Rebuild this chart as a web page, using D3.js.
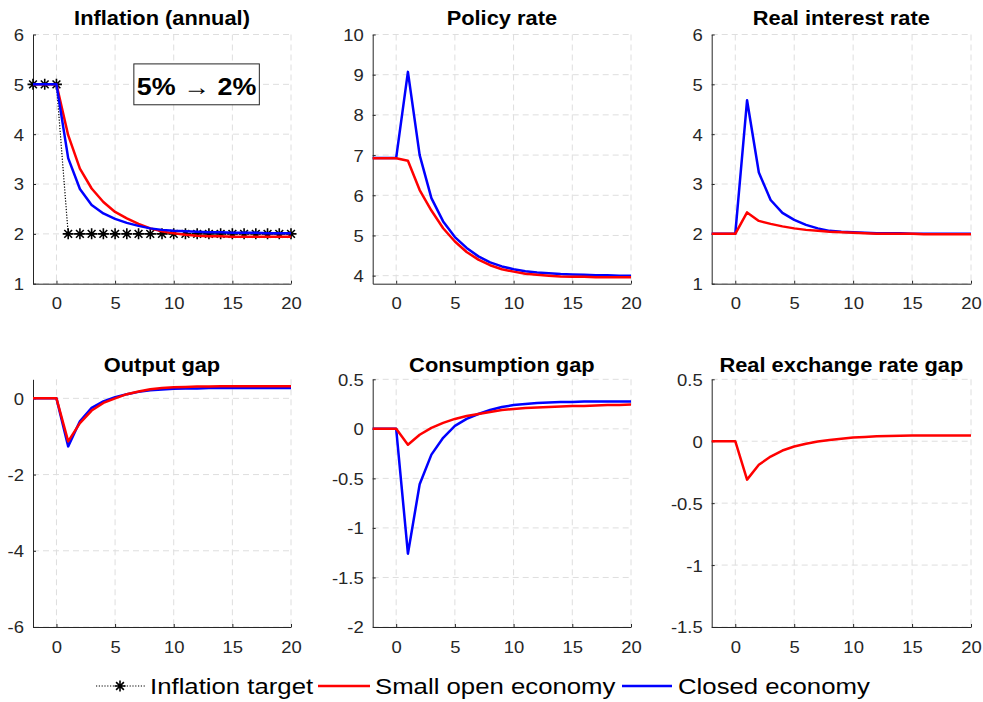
<!DOCTYPE html>
<html><head><meta charset="utf-8">
<script src="https://cdn.jsdelivr.net/npm/d3@7"></script>
<style>
body{margin:0;background:#fff;}
svg{display:block;font-family:"Liberation Sans",Arial,sans-serif;}
</style></head>
<body>
<svg id="chart" width="983" height="702"></svg>
<script>
// ---------------- DATA ----------------
const periods = [-2,-1,0,1,2,3,4,5,6,7,8,9,10,11,12,13,14,15,16,17,18,19,20];
const xTicks = [0,5,10,15,20];

const infTarget = [5,5,5,2,2,2,2,2,2,2,2,2,2,2,2,2,2,2,2,2,2,2,2];
const infClosed = [5,5,5,3.52,2.90,2.58,2.41,2.30,2.22,2.16,2.11,2.08,2.06,2.05,2.04,2.03,2.03,2.02,2.02,2.02,2.01,2.01,2.01];
const infOpen   = [5,5,5,3.98,3.31,2.91,2.64,2.44,2.31,2.20,2.11,2.05,2.01,1.98,1.96,1.95,1.95,1.94,1.94,1.94,1.94,1.94,1.94];

const policyClosed = [6.93,6.93,6.93,9.07,7.00,5.93,5.35,4.96,4.69,4.48,4.33,4.23,4.16,4.11,4.08,4.06,4.04,4.03,4.02,4.01,4.01,4.00,4.00];
const policyOpen   = [6.92,6.92,6.92,6.86,6.13,5.62,5.18,4.85,4.59,4.40,4.26,4.16,4.10,4.05,4.02,4.00,3.98,3.97,3.97,3.96,3.96,3.96,3.96];

const realClosed = [2,2,2,4.68,3.23,2.68,2.42,2.28,2.18,2.11,2.06,2.04,2.03,2.02,2.01,2.01,2.01,2.00,2.00,2.00,2.00,2.00,2.00];
const realOpen   = [2,2,2,2.43,2.26,2.20,2.15,2.11,2.08,2.06,2.04,2.03,2.02,2.01,2.00,2.00,2.00,2.00,1.99,1.99,1.99,1.99,1.99];

const outClosed = [0,0,0,-1.26,-0.60,-0.25,-0.08,0.03,0.11,0.17,0.21,0.23,0.25,0.26,0.26,0.27,0.27,0.27,0.27,0.27,0.27,0.27,0.27];
const outOpen   = [0,0,0,-1.13,-0.65,-0.32,-0.12,0.00,0.11,0.18,0.24,0.27,0.29,0.30,0.31,0.31,0.32,0.32,0.32,0.32,0.32,0.32,0.32];

const consClosed = [0,0,0,-1.26,-0.56,-0.26,-0.09,0.03,0.10,0.15,0.19,0.22,0.24,0.25,0.26,0.265,0.27,0.27,0.275,0.275,0.275,0.275,0.275];
const consOpen   = [0,0,0,-0.16,-0.06,0.01,0.06,0.10,0.13,0.15,0.17,0.19,0.20,0.21,0.215,0.22,0.225,0.23,0.23,0.235,0.24,0.24,0.245];

const rerOpen = [0,0,0,-0.31,-0.19,-0.124,-0.075,-0.043,-0.02,-0.003,0.01,0.02,0.03,0.035,0.04,0.043,0.045,0.046,0.047,0.047,0.047,0.047,0.046];

const titles = ["Inflation (annual)","Policy rate","Real interest rate","Output gap","Consumption gap","Real exchange rate gap"];
const yDomains = [[1,6],[3.8,10],[1,6],[-6,0.5],[-2,0.5],[-1.5,0.5]];
const yTickSets = [[1,2,3,4,5,6],[4,5,6,7,8,9,10],[1,2,3,4,5,6],[-6,-4,-2,0],[-2,-1.5,-1,-0.5,0,0.5],[-1.5,-1,-0.5,0,0.5]];
const legendLabels = ["Inflation target","Small open economy","Closed economy"];
const annotationText = ["5%", "\u2192", "2%"];

// ---------------- STYLE / LAYOUT ----------------
const RED = "#ff0000", BLUE = "#0000ff", AX = "#262626";
const SX = 1.12; // horizontal text stretch
const cols = [[33,291],[372.7,631],[711.7,971]];
const rows = [[34.5,283.7],[379.3,627]];

const svg = d3.select("#chart");

function stretchText(parent, x, y, str, opts) {
  const g = parent.append("g").attr("transform", `translate(${x},${y})`);
  const t = g.append("text").attr("transform", `scale(${SX},1)`)
    .attr("text-anchor", opts.anchor || "start")
    .attr("font-size", opts.size)
    .attr("font-weight", opts.weight || "normal")
    .attr("fill", opts.fill || "#000")
    .text(str);
  return t;
}

function starPath(r) {
  const p = d3.path();
  for (let k = 0; k < 4; k++) {
    const a = k * Math.PI / 4;
    p.moveTo(-r*Math.cos(a), -r*Math.sin(a));
    p.lineTo(r*Math.cos(a), r*Math.sin(a));
  }
  return p.toString();
}

const panelSeries = [
  [{d: infTarget, c:"#000", dash:"1.2,1.6", w:1.2, star:true}, {d: infOpen, c:RED}, {d: infClosed, c:BLUE}],
  [{d: policyClosed, c:BLUE}, {d: policyOpen, c:RED}],
  [{d: realClosed, c:BLUE}, {d: realOpen, c:RED}],
  [{d: outClosed, c:BLUE}, {d: outOpen, c:RED}],
  [{d: consClosed, c:BLUE}, {d: consOpen, c:RED}],
  [{d: rerOpen, c:RED}]
];

titles.forEach((title, i) => {
  const [x0, x1] = cols[i % 3];
  const [y0, y1] = rows[Math.floor(i / 3)];
  const x = d3.scaleLinear().domain([-2, 20]).range([x0, x1]);
  const y = d3.scaleLinear().domain(yDomains[i]).range([y1, y0]);
  const g = svg.append("g");

  // grid
  g.selectAll(".gx").data(xTicks).enter().append("line")
    .attr("x1", d => x(d)).attr("x2", d => x(d)).attr("y1", y0).attr("y2", y1)
    .attr("stroke", "#dedede").attr("stroke-width", 1).attr("stroke-dasharray", "6,4");
  g.selectAll(".gy").data(yTickSets[i]).enter().append("line")
    .attr("x1", x0).attr("x2", x1).attr("y1", d => y(d)).attr("y2", d => y(d))
    .attr("stroke", "#dedede").attr("stroke-width", 1).attr("stroke-dasharray", "6,4");

  // axes
  const ax = g.append("g").attr("transform", `translate(0,${y1})`)
    .call(d3.axisBottom(x).tickValues(xTicks).tickSizeInner(-3).tickSizeOuter(0).tickPadding(10).tickFormat(d3.format("d")));
  const ay = g.append("g").attr("transform", `translate(${x0},0)`)
    .call(d3.axisLeft(y).tickValues(yTickSets[i]).tickSizeInner(-3).tickSizeOuter(0).tickPadding(9).tickFormat(d => String(d)));
  [ax, ay].forEach(a => {
    a.select(".domain").attr("stroke", AX).attr("stroke-width", 1);
    a.selectAll(".tick line").attr("stroke", AX);
    a.selectAll("text").attr("font-size", 16.5).attr("fill", AX)
      .attr("font-family", "'Liberation Sans',Arial,sans-serif");
  });
  ax.selectAll("text").attr("transform", `scale(${SX},1)`).attr("dy", "0.95em");
  ay.selectAll("text").each(function() {
    const t = d3.select(this);
    t.attr("x", +t.attr("x") / SX).attr("transform", `scale(${SX},1)`).attr("dy", "0.36em");
  });

  // lines
  const line = d3.line().x((d, j) => x(periods[j])).y(d => y(d));
  panelSeries[i].forEach(s => {
    g.append("path").datum(s.d).attr("d", line).attr("fill", "none")
      .attr("stroke", s.c).attr("stroke-width", s.w || 2.5)
      .attr("stroke-dasharray", s.dash || null).attr("stroke-linejoin", "round");
    if (s.star) {
      g.selectAll(".star").data(s.d).enter().append("path")
        .attr("d", starPath(5.5))
        .attr("transform", (d, j) => `translate(${x(periods[j])},${y(d)})`)
        .attr("stroke", "#000").attr("stroke-width", 1.6).attr("fill", "none");
    }
  });

  // title
  stretchText(g, (x0 + x1) / 2, i < 3 ? 25 : 372, title, {anchor: "middle", size: 19.5, weight: "bold"});

  // annotation box on inflation panel
  if (i === 0) {
    const bx0 = x(6.6), bx1 = x(17.3), by0 = y(5.41), by1 = y(4.59);
    g.append("rect").attr("x", bx0).attr("y", by0).attr("width", bx1 - bx0).attr("height", by1 - by0)
      .attr("fill", "#fff").attr("stroke", AX).attr("stroke-width", 1);
    const t = stretchText(g, (bx0 + bx1) / 2, by1 - 10, "", {anchor: "middle", size: 24, weight: "bold"});
    t.append("tspan").text(annotationText[0]);
    t.append("tspan").attr("font-weight", "normal").text(" " + annotationText[1] + " ");
    t.append("tspan").text(annotationText[2]);
  }
});

// ---------------- LEGEND ----------------
const lg = svg.append("g");
const ly = 686;
lg.append("line").attr("x1", 96).attr("x2", 145).attr("y1", ly).attr("y2", ly)
  .attr("stroke", "#000").attr("stroke-width", 1.2).attr("stroke-dasharray", "1.2,1.6");
lg.append("path").attr("d", starPath(5.5)).attr("transform", `translate(120,${ly})`)
  .attr("stroke", "#000").attr("stroke-width", 1.6).attr("fill", "none");
stretchText(lg, 150, ly + 8, legendLabels[0], {size: 23});
lg.append("line").attr("x1", 318).attr("x2", 370).attr("y1", ly).attr("y2", ly).attr("stroke", RED).attr("stroke-width", 2.5);
stretchText(lg, 375, ly + 8, legendLabels[1], {size: 23});
lg.append("line").attr("x1", 622).attr("x2", 672).attr("y1", ly).attr("y2", ly).attr("stroke", BLUE).attr("stroke-width", 2.5);
stretchText(lg, 678, ly + 8, legendLabels[2], {size: 23});
</script>
</body></html>
